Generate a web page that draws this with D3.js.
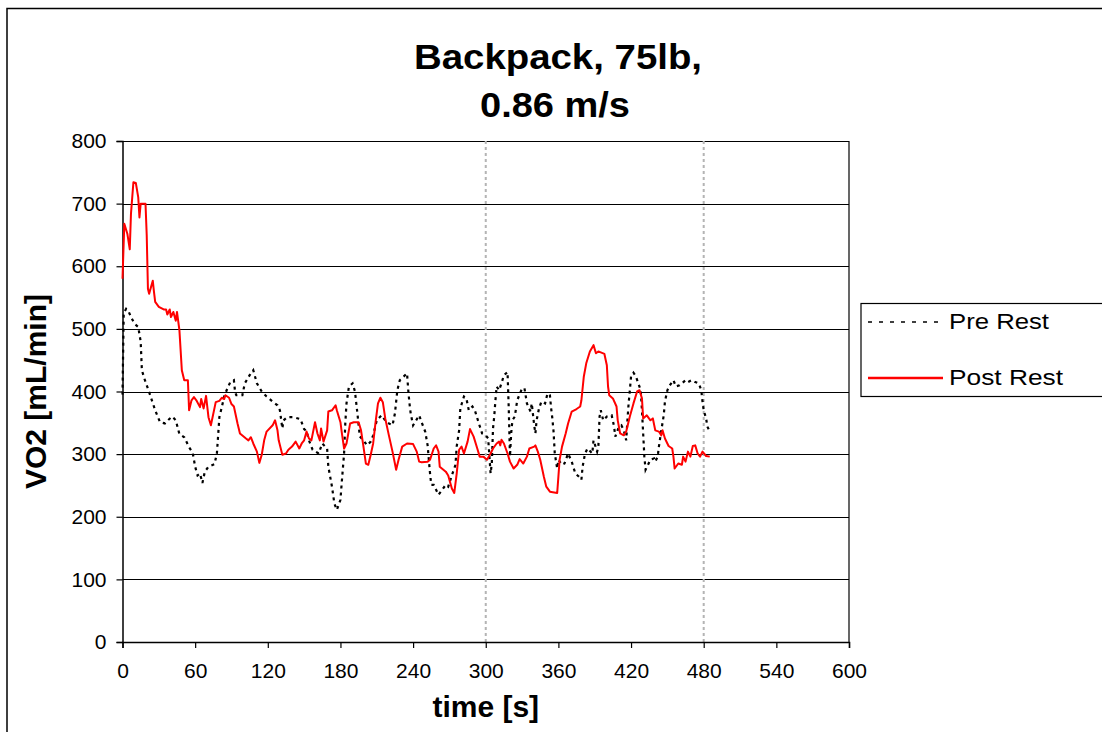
<!DOCTYPE html>
<html>
<head>
<meta charset="utf-8">
<script src="https://cdn.jsdelivr.net/npm/d3@7/dist/d3.min.js"></script>
<style>
  html, body { margin: 0; padding: 0; background: #fff; }
  svg { display: block; font-family: "Liberation Sans", Arial, sans-serif; }
</style>
</head>
<body>
<svg id="chart" width="1102" height="732"></svg>
<script>
// VO2 during a backpack trial (75 lb, 0.86 m/s): time in s, VO2 in mL/min
const preTime = [0,1,3,5,7,10,13,15,16,18,22,27,31,35,38,41,44,47,51,55,58,60,62,64,66,68,71,76,78,80,82,84,86,89,92,93,94,99,101,105,108,111,115,119,124,128,130,132,133,136,141,147,150,152,154,157,162,165,169,170,173,175,177,180,181,183,184,185,187,190,192,194,196,199,202,205,207,210,214,218,223,225,226,227,229,235,236,237,238,240,245,247,250,252,253,254,255,257,261,264,267,269,272,275,276,278,279,282,284,286,289,291,294,297,300,302,304,305,306,307,308,309,311,313,315,318,319,320,321,322,324,326,330,332,334,337,338,340,341,342,344,346,349,351,353,354,355,356,357,359,360,363,365,368,371,374,377,379,380,382,384,388,389,392,393,394,395,397,400,404,406,407,410,412,414,416,417,418,419,420,422,424,426,428,429,430,431,432,434,436,439,440,442,443,445,447,448,450,452,455,457,460,462,465,467,470,473,476,478,479,480,482,483,485];
const preVO2 = [395,525,532,528,519,508,503,480,434,421,399,370,351,349,355,360,354,332,327,311,302,280,266,269,254,272,280,284,302,359,375,392,402,415,418,399,394,394,413,426,434,413,400,392,384,378,370,341,354,359,359,356,340,337,322,307,301,317,309,280,248,221,211,227,253,301,349,381,408,413,400,365,328,322,314,320,330,354,362,351,346,365,384,402,418,429,402,381,365,346,362,351,336,314,291,269,251,251,235,243,251,248,266,283,312,338,373,392,389,370,376,370,351,333,330,325,269,285,341,360,386,408,402,413,426,431,373,296,333,354,360,386,405,405,381,368,381,346,333,354,373,384,381,397,394,373,357,336,301,277,291,283,285,301,288,269,264,259,280,301,309,301,322,304,312,360,370,354,360,362,344,328,344,346,338,322,354,381,402,424,430,424,413,402,370,333,296,275,283,291,293,288,296,312,338,362,384,402,410,418,408,410,413,418,415,418,415,413,402,384,370,357,344,336];

const postTime = [0,1.5,4,6,7,9,11,13,14,15,19,20,21,22,25,26,27,30,34,36,37,39,40,42,44,45,47,49,51,54,55,57,59,61,64,65,67,69,71,73,77,80,82,84,85,88,90,92,95,97,102,104,106,108,111,113,115,117,119,124,126,128,129,132,135,137,140,143,146,148,150,152,154,156,159,161,163,164,166,169,170,173,176,177,180,181,183,185,188,191,195,197,199,201,203,205,207,209,211,213,215,217,220,223,226,228,231,235,240,243,245,247,252,254,257,259,261,262,267,269,272,274,276,278,280,282,285,287,290,293,295,298,301,304,306,309,311,312,313,315,318,320,323,326,328,331,334,336,340,341,343,345,348,350,353,359,360,361,363,366,368,371,375,378,379,381,383,386,389,391,393,398,400,401,402,405,408,409,411,414,416,419,422,425,427,429,430,433,436,438,440,443,445,446,448,451,454,455,456,459,462,463,465,467,469,471,473,475,477,479,482,485];
const postVO2 = [580,668,652,627,684,734,733,710,678,700,700,650,564,556,577,559,543,535,531,531,523,531,519,527,513,527,498,434,418,418,370,386,391,386,375,388,373,393,359,346,383,385,390,388,394,390,380,376,349,333,325,322,327,317,304,286,299,322,336,346,354,338,322,299,301,307,312,320,309,317,322,336,325,322,351,333,322,341,320,338,368,370,378,370,351,336,309,317,349,351,351,338,312,285,283,299,317,351,381,390,383,357,330,304,275,291,312,317,316,304,288,287,288,291,309,314,304,280,272,266,245,238,269,307,312,301,320,340,328,309,296,296,291,301,309,317,320,314,323,317,301,288,277,283,292,285,296,309,312,314,304,291,264,248,240,238,264,291,312,333,349,368,372,376,386,424,445,464,474,461,464,460,442,408,394,389,376,354,333,330,336,360,381,400,402,389,357,362,354,357,338,336,330,338,325,313,309,296,277,285,283,296,288,304,296,313,314,301,296,304,297,296];

// Reference times marked with vertical dotted lines
const markerTimes = [300, 480];

const xTicks = [0, 60, 120, 180, 240, 300, 360, 420, 480, 540, 600];
const yTicks = [0, 100, 200, 300, 400, 500, 600, 700, 800];

const titleLines = ["Backpack, 75lb,", "0.86 m/s"];
const xTitle = "time [s]";
const yTitle = "VO2 [mL/min]";
const seriesNames = ["Pre Rest", "Post Rest"];

const svg = d3.select("#chart");
const plot = { left: 122.5, right: 849, top: 141, bottom: 642 };

const x = d3.scaleLinear().domain([0, 600]).range([plot.left, plot.right]);
const y = d3.scaleLinear().domain([0, 800]).range([plot.bottom, plot.top]);

// outer chart frame
svg.append("rect")
  .attr("x", 7).attr("y", 8.5).attr("width", 1120).attr("height", 760)
  .attr("fill", "#fff").attr("stroke", "#000").attr("stroke-width", 1.5);

// horizontal gridlines
svg.append("g").selectAll("line")
  .data(yTicks.filter(d => d > 0))
  .join("line")
  .attr("x1", plot.left).attr("x2", plot.right)
  .attr("y1", d => Math.round(y(d)) + 0.5).attr("y2", d => Math.round(y(d)) + 0.5)
  .attr("stroke", "#000").attr("stroke-width", 1);

// right edge of plot area
svg.append("line")
  .attr("x1", plot.right).attr("x2", plot.right)
  .attr("y1", plot.top).attr("y2", plot.bottom)
  .attr("stroke", "#000").attr("stroke-width", 1.2);

// vertical markers
svg.append("g").selectAll("line")
  .data(markerTimes)
  .join("line")
  .attr("x1", d => x(d)).attr("x2", d => x(d))
  .attr("y1", y(800)).attr("y2", y(0))
  .attr("stroke", "#b4b4b4").attr("stroke-width", 2)
  .attr("stroke-dasharray", "3,3");

// axes
const yAxis = d3.axisLeft(y).tickValues(yTicks).tickSize(6).tickPadding(10);
const xAxis = d3.axisBottom(x).tickValues(xTicks).tickSize(6).tickPadding(15);

const gy = svg.append("g").attr("transform", `translate(${plot.left},0)`).call(yAxis);
const gx = svg.append("g").attr("transform", `translate(0,${plot.bottom})`).call(xAxis);
[gx, gy].forEach(g => {
  g.selectAll("path").attr("stroke", "#000").attr("stroke-width", 1.5);
  g.selectAll("line").attr("stroke", "#000").attr("stroke-width", 1.2);
  g.selectAll("text")
    .attr("fill", "#000")
    .style("font-family", "'Liberation Sans', Arial, sans-serif")
    .style("font-size", "21px");
});

// series lines
const line = d3.line().x(d => x(d[0])).y(d => y(d[1]));
const preData = preTime.map((t, i) => [t, preVO2[i]]);
const postData = postTime.map((t, i) => [t, postVO2[i]]);

svg.append("path")
  .datum(preData)
  .attr("d", line)
  .attr("fill", "none")
  .attr("stroke", "#000")
  .attr("stroke-width", 2.2)
  .attr("stroke-dasharray", "3,4");

svg.append("path")
  .datum(postData)
  .attr("d", line)
  .attr("fill", "none")
  .attr("stroke", "#ff0000")
  .attr("stroke-width", 2)
  .attr("stroke-linejoin", "round");

// title
svg.append("text")
  .attr("x", 558).attr("y", 69)
  .attr("text-anchor", "middle")
  .attr("font-weight", "bold").attr("font-size", 35)
  .attr("textLength", 288).attr("lengthAdjust", "spacingAndGlyphs")
  .text(titleLines[0]);
svg.append("text")
  .attr("x", 555).attr("y", 117)
  .attr("text-anchor", "middle")
  .attr("font-weight", "bold").attr("font-size", 35)
  .attr("textLength", 150).attr("lengthAdjust", "spacingAndGlyphs")
  .text(titleLines[1]);

// axis titles
svg.append("text")
  .attr("x", (plot.left + plot.right) / 2).attr("y", 717)
  .attr("text-anchor", "middle")
  .attr("font-weight", "bold").attr("font-size", 30)
  .text(xTitle);

svg.append("text")
  .attr("transform", `translate(46,${(plot.top + plot.bottom) / 2}) rotate(-90)`)
  .attr("text-anchor", "middle")
  .attr("font-weight", "bold").attr("font-size", 30)
  .text(yTitle);

// legend
const legend = svg.append("g");
legend.append("rect")
  .attr("x", 861).attr("y", 303.5).attr("width", 260).attr("height", 93)
  .attr("fill", "#fff").attr("stroke", "#000").attr("stroke-width", 1.2);
legend.append("line")
  .attr("x1", 868).attr("x2", 945).attr("y1", 322).attr("y2", 322)
  .attr("stroke", "#000").attr("stroke-width", 1.5).attr("stroke-dasharray", "4,7");
legend.append("line")
  .attr("x1", 868).attr("x2", 943).attr("y1", 378).attr("y2", 378)
  .attr("stroke", "#ff0000").attr("stroke-width", 2.5);
legend.append("text")
  .attr("x", 949).attr("y", 328.5).attr("font-size", 22)
  .attr("textLength", 100).attr("lengthAdjust", "spacingAndGlyphs")
  .text(seriesNames[0]);
legend.append("text")
  .attr("x", 949).attr("y", 385).attr("font-size", 22)
  .attr("textLength", 114).attr("lengthAdjust", "spacingAndGlyphs")
  .text(seriesNames[1]);
</script>
</body>
</html>
